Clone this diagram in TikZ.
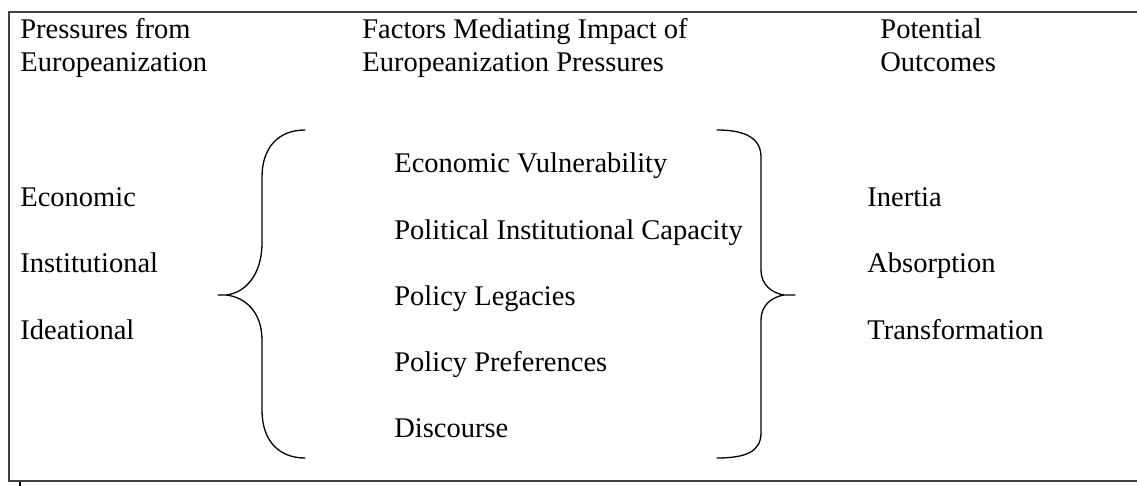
\documentclass[tikz,border=0pt]{standalone}
\usepackage{fontspec}
\setmainfont{Liberation Serif}
\begin{document}
\begin{tikzpicture}[x=0.5pt,y=-0.5pt,
  txt/.style={anchor=base west, inner sep=0pt, font=\fontsize{14.25}{17}\selectfont},
  brace/.style={line width=0.65pt, line join=round, line cap=round},
  frame/.style={line width=1pt, draw=black!75}]
\useasboundingbox (0,0) rectangle (1137,486);
\begin{scope}
  \clip (0,0) rectangle (1137,486);
  \draw[frame] (1150,12) -- (9,12) -- (9,481) -- (1150,481);
  \draw[line width=0.8pt] (20,482) -- (20,487);
\end{scope}
% headers
\node[txt] (h1a) at (20,39) {Pressures from};
\node[txt] (h1b) at (20,72) {Europeanization};
\node[txt] (h2a) at (362,39) {Factors Mediating Impact of};
\node[txt] (h2b) at (362,72) {Europeanization Pressures};
\node[txt] (h3a) at (880,39) {Potential};
\node[txt] (h3b) at (880,72) {Outcomes};
% left column
\node[txt] (l1) at (20,207) {Economic};
\node[txt] (l2) at (20,273) {Institutional};
\node[txt] (l3) at (20,340) {Ideational};
% middle column
\node[txt] (m1) at (394,173) {Economic Vulnerability};
\node[txt] (m2) at (394,240) {Political Institutional Capacity};
\node[txt] (m3) at (394,306) {Policy Legacies};
\node[txt] (m4) at (394,372) {Policy Preferences};
\node[txt] (m5) at (394,438) {Discourse};
% right column
\node[txt] (r1) at (867,207) {Inertia};
\node[txt] (r2) at (867,273) {Absorption};
\node[txt] (r3) at (867,340) {Transformation};
% left brace
\draw[brace] (305,130) .. controls (278,130) and (262,148) .. (262,177)
  -- (262,243) .. controls (262,275) and (245,293) .. (226,295) -- (218,295)
  (226,295) .. controls (245,297) and (262,312) .. (262,340)
  -- (262,410) .. controls (262,442) and (280,458) .. (305,458);
% right brace
\draw[brace] (717,130) .. controls (745,130) and (761,138) .. (761,157)
  -- (761,270) .. controls (761,285) and (772,293) .. (784,295) -- (795,295)
  (784,295) .. controls (772,297) and (761,305) .. (761,320)
  -- (761,433) .. controls (761,452) and (745,458) .. (717,458);
\end{tikzpicture}
\end{document}
